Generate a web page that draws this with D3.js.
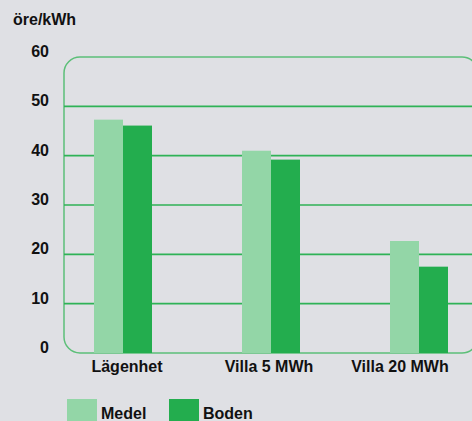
<!DOCTYPE html>
<html>
<head>
<meta charset="utf-8">
<script src="https://cdn.jsdelivr.net/npm/d3@7"></script>
<style>
  body { margin: 0; background: #dfe0e4; }
  svg { display: block; font-family: "Liberation Sans", Arial, sans-serif; font-weight: bold; }
</style>
</head>
<body>
<svg id="chart"></svg>
<script>
const w = 472;
const h = 421;

// data
const categories = ["Lägenhet", "Villa 5 MWh", "Villa 20 MWh"];
const seriesNames = ["Medel", "Boden"];
const medel = [47.3, 41.0, 22.7];
const boden = [46.1, 39.2, 17.5];
const yTicks = [0, 10, 20, 30, 40, 50, 60];
const unitLabel = "öre/kWh";

const colors = { Medel: "#93d6a7", Boden: "#23ad4e" };
const gridColor = "#2fb256";
const frameColor = "#5cbf78";

const svg = d3.select("#chart")
    .attr("width", w)
    .attr("height", h);

const yScale = d3.scaleLinear()
    .domain([0, 60])
    .range([353, 57]);

const xScale = d3.scalePoint()
    .domain(categories)
    .range([123, 419]);

const inner = d3.scaleBand()
    .domain(seriesNames)
    .range([-29, 29]);

// rounded frame (0 to 60), goes off to the right
svg.append("rect")
    .attr("x", 64)
    .attr("y", yScale(60))
    .attr("width", 414)
    .attr("height", yScale(0) - yScale(60))
    .attr("rx", 16)
    .attr("fill", "none")
    .attr("stroke", frameColor)
    .attr("stroke-width", 1.5);

// gridlines
svg.selectAll(".grid")
    .data(yTicks.filter((d) => d > 0 && d < 60))
    .enter()
    .append("line")
    .attr("class", "grid")
    .attr("x1", 64)
    .attr("x2", w)
    .attr("y1", (d) => yScale(d))
    .attr("y2", (d) => yScale(d))
    .attr("stroke", gridColor)
    .attr("stroke-width", 1.6);

// y tick labels, baseline on the gridline
svg.selectAll(".ytick")
    .data(yTicks)
    .enter()
    .append("text")
    .attr("class", "ytick")
    .attr("x", 49)
    .attr("y", (d) => yScale(d))
    .attr("text-anchor", "end")
    .attr("font-size", 16)
    .attr("fill", "#111")
    .text((d) => d);

svg.append("text")
    .attr("x", 13)
    .attr("y", 25)
    .attr("font-size", 16)
    .attr("fill", "#111")
    .text(unitLabel);

// bars
const rows = categories.map((c, i) => ({ cat: c, Medel: medel[i], Boden: boden[i] }));

const groups = svg.selectAll(".group")
    .data(rows)
    .enter()
    .append("g")
    .attr("class", "group")
    .attr("transform", (d) => "translate(" + xScale(d.cat) + ",0)");

groups.selectAll("rect")
    .data((d) => seriesNames.map((s) => ({ key: s, value: d[s] })))
    .enter()
    .append("rect")
    .attr("x", (d) => inner(d.key))
    .attr("y", (d) => yScale(d.value))
    .attr("width", inner.bandwidth())
    .attr("height", (d) => yScale(0) - yScale(d.value))
    .attr("fill", (d) => colors[d.key]);

// category labels (not quite centred in the original)
const labelDx = [4, -2, -19];
svg.selectAll(".xlabel")
    .data(categories)
    .enter()
    .append("text")
    .attr("class", "xlabel")
    .attr("x", (d, i) => xScale(d) + labelDx[i])
    .attr("y", 372)
    .attr("text-anchor", "middle")
    .attr("font-size", 16)
    .attr("fill", "#111")
    .text((d) => d);

// legend
const legendX = [67, 169];
const legend = svg.selectAll(".legend")
    .data(seriesNames)
    .enter()
    .append("g")
    .attr("class", "legend")
    .attr("transform", (d, i) => "translate(" + legendX[i] + ",399)");

legend.append("rect")
    .attr("width", 30)
    .attr("height", 24)
    .attr("fill", (d) => colors[d]);

legend.append("text")
    .attr("x", 34)
    .attr("y", 19.5)
    .attr("font-size", 16)
    .attr("fill", "#111")
    .text((d) => d);
</script>
</body>
</html>
